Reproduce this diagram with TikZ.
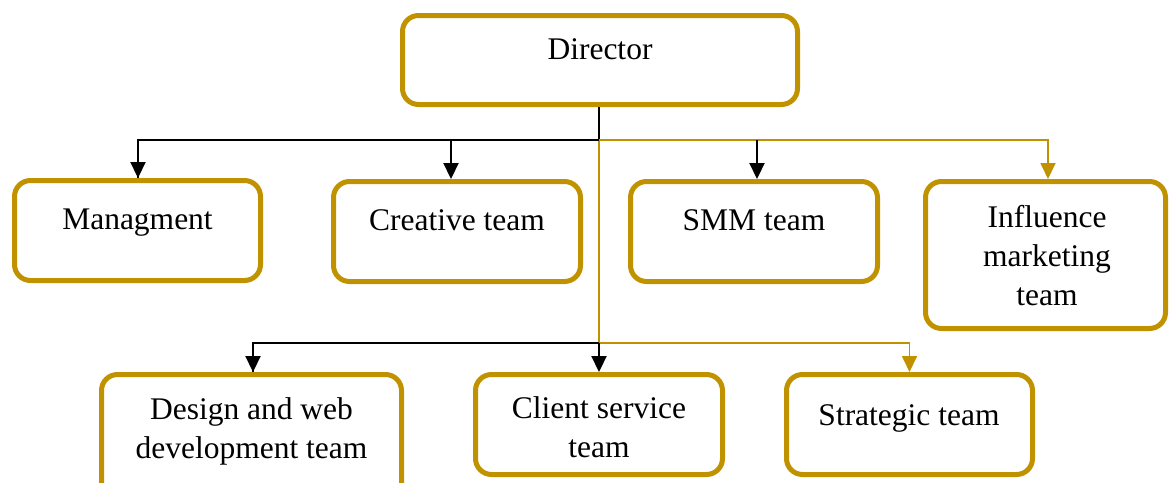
\documentclass[tikz,border=0pt]{standalone}
\usepackage{fontspec}
\setmainfont{Liberation Serif}
\usetikzlibrary{arrows.meta}
\definecolor{gold}{HTML}{C09200}
\begin{document}
\begin{tikzpicture}[x=1pt,y=-1pt,
 box/.style={draw=gold, line width=5pt, rounded corners=16pt, fill=white, inner sep=0pt},
 lbl/.style={font=\fontsize{31.5}{39}\selectfont, align=center, inner sep=0pt, anchor=base},
 blk/.style={black, line width=2.2pt},
 thin/.style={black, line width=1.2pt},
 gld/.style={gold, line width=1.8pt},
 arr/.style={-{Triangle[length=16pt,width=15pt]}},
]
\useasboundingbox (0,0) rectangle (1170,482);
\clip (0,0) rectangle (1170,482);
% boxes
\node[box, minimum width=395pt, minimum height=89pt] (dir) at (600,60) {};
\node[box, minimum width=246pt, minimum height=100pt] (mgmt) at (137.5,230.5) {};
\node[box, minimum width=247pt, minimum height=100pt] (crea) at (457,231.5) {};
\node[box, minimum width=247pt, minimum height=100pt] (smm) at (754,231.5) {};
\node[box, minimum width=240pt, minimum height=147pt] (infl) at (1045.5,255) {};
\node[box, minimum width=300pt, minimum height=143pt] (des) at (251.5,446) {};
\node[box, minimum width=247pt, minimum height=100pt] (cli) at (599,424.5) {};
\node[box, minimum width=246pt, minimum height=100pt] (str) at (909.5,424.5) {};
% labels (multi-line labels anchored at the baseline of their last line)
\node[lbl] (tdir) at (600,59) {Director};
\node[lbl] (tmgmt) at (137.5,229) {Managment};
\node[lbl] (tcrea) at (457,230) {Creative team};
\node[lbl] (tsmm) at (754,230) {SMM team};
\node[lbl] (tinfl) at (1047,305) {Influence\\marketing\\team};
\node[lbl] (tdes) at (251.5,458) {Design and web\\development team};
\node[lbl] (tcli) at (599,457) {Client service\\team};
\node[lbl] (tstr) at (909,425) {Strategic team};
% junctions
\coordinate (j1) at (599,140);
\coordinate (j2) at (599,343);
% connectors
\draw[thin] (dir.south -| j1) -- (j1);
\draw[gld] (j1) -- (j2);
\draw[gld,arr] (j1) -| (infl.north -| 1048,0);
\draw[blk] (j1) -| (mgmt.north -| 138,0);
\draw[blk,arr] (138,140) -- (mgmt.north -| 138,0);
\draw[blk,arr] (451,140) -- (crea.north -| 451,0);
\draw[blk,arr] (757,140) -- (smm.north -| 757,0);
\draw[gld,arr] (j2) -| (str.north);
\draw[blk] (j2) -| (des.north -| 253,0);
\draw[blk,arr] (253,343) -- (des.north -| 253,0);
\draw[blk,arr] (j2) -- (cli.north);
\end{tikzpicture}
\end{document}
